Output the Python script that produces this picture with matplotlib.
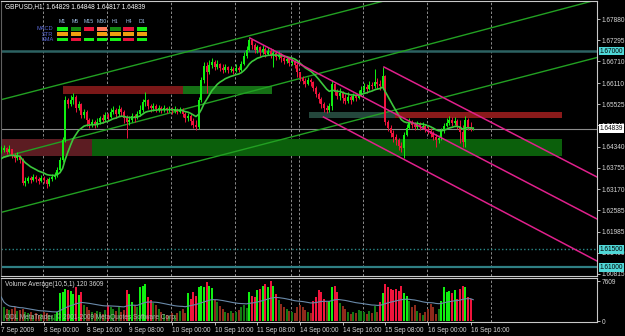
import numpy as np
import pandas as pd
import matplotlib
matplotlib.use('Agg')
import matplotlib.pyplot as plt
import matplotlib.transforms as mtransforms
from matplotlib.patches import Rectangle
from matplotlib import font_manager

installed = {f.name for f in font_manager.fontManager.ttflist}
if 'Liberation Sans Narrow' in installed:
    plt.rcParams['font.family'] = ['Liberation Sans Narrow', 'DejaVu Sans']
    FS = 5.4
else:
    plt.rcParams['font.family'] = ['Liberation Sans', 'DejaVu Sans']
    FS = 4.7

# ---- GBPUSD H1, 7 Sep 2009 08:00 .. 16 Sep 2009 17:00 (bar index = position) ----
first_open = 1.6422
ma_seed = 1.6398   # moving average value just before the first visible bar
closes = [
    1.6425, 1.6431, 1.6420, 1.6428, 1.6412, 1.6403, 1.6409, 1.6398, 1.6334, 1.6339,
    1.6348, 1.6342, 1.6350, 1.6345, 1.6339, 1.6348, 1.6342, 1.6331, 1.6345, 1.6350,
    1.6356, 1.6370, 1.6398, 1.6453, 1.6564, 1.6553, 1.6564, 1.6572, 1.6542, 1.6553,
    1.6523, 1.6531, 1.6509, 1.6498, 1.6503, 1.6495, 1.6503, 1.6514, 1.6509, 1.6523,
    1.6517, 1.6531, 1.6536, 1.6525, 1.6539, 1.6531, 1.6514, 1.6503, 1.6509, 1.6520,
    1.6514, 1.6525, 1.6536, 1.6559, 1.6564, 1.6548, 1.6542, 1.6548, 1.6539, 1.6542,
    1.6536, 1.6542, 1.6536, 1.6539, 1.6534, 1.6536, 1.6531, 1.6536, 1.6525, 1.6514,
    1.6520, 1.6506, 1.6495, 1.6489, 1.6564, 1.6620, 1.6659, 1.6642, 1.6661, 1.6670,
    1.6656, 1.6664, 1.6653, 1.6647, 1.6656, 1.6647, 1.6650, 1.6645, 1.6653, 1.6647,
    1.6664, 1.6686, 1.6703, 1.6731, 1.6717, 1.6703, 1.6711, 1.6697, 1.6706, 1.6692,
    1.6700, 1.6689, 1.6695, 1.6683, 1.6689, 1.6681, 1.6672, 1.6678, 1.6667, 1.6670,
    1.6661, 1.6642, 1.6625, 1.6617, 1.6609, 1.6620, 1.6614, 1.6597, 1.6581, 1.6567,
    1.6553, 1.6542, 1.6536, 1.6548, 1.6609, 1.6586, 1.6575, 1.6584, 1.6570, 1.6561,
    1.6572, 1.6564, 1.6575, 1.6570, 1.6581, 1.6592, 1.6600, 1.6595, 1.6606, 1.6603,
    1.6614, 1.6609, 1.6603, 1.6631, 1.6503, 1.6486, 1.6473, 1.6461, 1.6453, 1.6437,
    1.6431, 1.6467, 1.6486, 1.6503, 1.6495, 1.6489, 1.6498, 1.6489, 1.6492, 1.6484,
    1.6478, 1.6470, 1.6461, 1.6453, 1.6459, 1.6478, 1.6492, 1.6500, 1.6509, 1.6500,
    1.6506, 1.6492, 1.6475, 1.6448, 1.6509, 1.6489, 1.6483, 1.6484]
highs = [
    1.6437, 1.6439, 1.6434, 1.6439, 1.6428, 1.6417, 1.6420, 1.6412, 1.6403, 1.6350,
    1.6353, 1.6353, 1.6359, 1.6356, 1.6350, 1.6356, 1.6353, 1.6348, 1.6350, 1.6359,
    1.6364, 1.6378, 1.6406, 1.6461, 1.6575, 1.6570, 1.6578, 1.6584, 1.6578, 1.6561,
    1.6556, 1.6539, 1.6536, 1.6514, 1.6511, 1.6509, 1.6514, 1.6520, 1.6525, 1.6531,
    1.6528, 1.6542, 1.6548, 1.6542, 1.6550, 1.6545, 1.6536, 1.6523, 1.6520, 1.6528,
    1.6525, 1.6534, 1.6550, 1.6567, 1.6586, 1.6567, 1.6553, 1.6556, 1.6553, 1.6550,
    1.6548, 1.6550, 1.6545, 1.6548, 1.6545, 1.6548, 1.6542, 1.6545, 1.6542, 1.6531,
    1.6528, 1.6525, 1.6514, 1.6509, 1.6572, 1.6628, 1.6670, 1.6670, 1.6675, 1.6681,
    1.6675, 1.6675, 1.6667, 1.6664, 1.6664, 1.6659, 1.6659, 1.6656, 1.6664, 1.6659,
    1.6672, 1.6697, 1.6714, 1.6736, 1.6733, 1.6722, 1.6717, 1.6714, 1.6717, 1.6711,
    1.6711, 1.6708, 1.6706, 1.6700, 1.6700, 1.6695, 1.6689, 1.6686, 1.6683, 1.6681,
    1.6675, 1.6667, 1.6642, 1.6631, 1.6625, 1.6628, 1.6625, 1.6617, 1.6603, 1.6586,
    1.6572, 1.6559, 1.6550, 1.6556, 1.6620, 1.6611, 1.6595, 1.6597, 1.6589, 1.6581,
    1.6586, 1.6578, 1.6584, 1.6581, 1.6592, 1.6603, 1.6611, 1.6609, 1.6617, 1.6614,
    1.6650, 1.6625, 1.6620, 1.6656, 1.6634, 1.6509, 1.6495, 1.6481, 1.6470, 1.6459,
    1.6448, 1.6475, 1.6498, 1.6514, 1.6509, 1.6503, 1.6506, 1.6503, 1.6503, 1.6498,
    1.6492, 1.6486, 1.6478, 1.6470, 1.6467, 1.6486, 1.6500, 1.6514, 1.6520, 1.6517,
    1.6517, 1.6511, 1.6509, 1.6495, 1.6520, 1.6514, 1.6503, 1.6485]
lows = [
    1.6417, 1.6420, 1.6414, 1.6417, 1.6403, 1.6392, 1.6398, 1.6389, 1.6328, 1.6326,
    1.6334, 1.6334, 1.6339, 1.6337, 1.6331, 1.6337, 1.6334, 1.6320, 1.6326, 1.6339,
    1.6345, 1.6350, 1.6364, 1.6392, 1.6448, 1.6542, 1.6548, 1.6553, 1.6531, 1.6536,
    1.6514, 1.6514, 1.6492, 1.6486, 1.6489, 1.6486, 1.6489, 1.6498, 1.6500, 1.6506,
    1.6509, 1.6514, 1.6525, 1.6514, 1.6520, 1.6520, 1.6500, 1.6459, 1.6495, 1.6503,
    1.6503, 1.6511, 1.6520, 1.6531, 1.6548, 1.6539, 1.6531, 1.6534, 1.6531, 1.6531,
    1.6528, 1.6531, 1.6528, 1.6531, 1.6525, 1.6528, 1.6525, 1.6528, 1.6517, 1.6503,
    1.6506, 1.6495, 1.6486, 1.6481, 1.6484, 1.6559, 1.6611, 1.6584, 1.6636, 1.6653,
    1.6647, 1.6650, 1.6645, 1.6639, 1.6642, 1.6639, 1.6642, 1.6636, 1.6642, 1.6642,
    1.6645, 1.6661, 1.6681, 1.6700, 1.6706, 1.6695, 1.6695, 1.6686, 1.6692, 1.6683,
    1.6689, 1.6681, 1.6656, 1.6675, 1.6678, 1.6670, 1.6664, 1.6667, 1.6659, 1.6661,
    1.6653, 1.6628, 1.6617, 1.6609, 1.6600, 1.6606, 1.6603, 1.6589, 1.6572, 1.6556,
    1.6542, 1.6531, 1.6528, 1.6531, 1.6536, 1.6578, 1.6567, 1.6564, 1.6556, 1.6553,
    1.6556, 1.6553, 1.6561, 1.6561, 1.6567, 1.6575, 1.6586, 1.6584, 1.6592, 1.6595,
    1.6597, 1.6595, 1.6592, 1.6597, 1.6495, 1.6478, 1.6461, 1.6448, 1.6439, 1.6425,
    1.6420, 1.6403, 1.6464, 1.6484, 1.6486, 1.6481, 1.6484, 1.6481, 1.6484, 1.6475,
    1.6470, 1.6461, 1.6453, 1.6434, 1.6445, 1.6453, 1.6473, 1.6489, 1.6495, 1.6492,
    1.6495, 1.6484, 1.6445, 1.6434, 1.6434, 1.6481, 1.6478, 1.6482]
volumes = [
    4600, 2700, 2400, 2100, 2400, 2700, 2000, 2100, 2400, 1800,
    1500, 1700, 1200, 1500, 1100, 1400, 1800, 1500, 1200, 1000,
    1400, 1800, 5300, 5500, 6200, 6000, 5800, 5200, 6500, 5000,
    5600, 3000, 2600, 2200, 1800, 1500, 2000, 1700, 1400, 2100,
    3000, 2700, 2400, 2000, 2600, 1700, 2100, 5900, 5200, 3600,
    3000, 2600, 6500, 6800, 7100, 4600, 4000, 3400, 3000, 2400,
    1800, 1400, 1200, 900, 1500, 1100, 1600, 2000, 2400, 1500,
    5300, 4300, 5600, 4900, 6500, 6800, 6500, 7500, 6800, 6400,
    4000, 3600, 2800, 2400, 1800, 1600, 2000, 1600, 1800, 2100,
    2700, 3000, 2500, 5500, 4900, 4600, 5900, 6200, 6800, 7200,
    6500, 7600, 6800, 5200, 4000, 3200, 2700, 2400, 2000, 1800,
    1500, 2600, 3000, 2600, 2100, 1800, 1500, 3900, 4600, 6000,
    5600, 4300, 3700, 3900, 6600, 6800, 5500, 3400, 2800, 2400,
    1700, 1300, 1800, 1500, 2200, 2000, 1700, 1400, 2000, 1500,
    2800, 1800, 3700, 5300, 7200, 6500, 6200, 6000, 6200, 5800,
    6800, 5300, 4800, 3800, 2600, 3000, 2000, 1500, 1200, 1700,
    2400, 3300, 2600, 1400, 2400, 3900, 6500, 5600, 5700, 5300,
    5900, 4300, 6200, 6800, 6500, 4600, 4300, 120]

# time axis
day_starts = [16, 40, 64, 88, 109, 112, 136, 160, 184]
time_tick_idx = [0, 16, 32, 48, 64, 80, 96, 112, 128, 144, 160, 176]
time_labels = ['7 Sep 2009', '8 Sep 00:00', '8 Sep 16:00', '9 Sep 08:00', '10 Sep 00:00',
               '10 Sep 16:00', '11 Sep 08:00', '14 Sep 00:00', '14 Sep 16:00',
               '15 Sep 08:00', '16 Sep 00:00', '16 Sep 16:00']
price_ticks = [1.67880, 1.67295, 1.66710, 1.66110, 1.65525, 1.64940, 1.64340,
               1.63755, 1.63170, 1.62585, 1.61985, 1.61400, 1.60815]

# chart objects: (bar, price) anchors
green_channel = [((-0.5, 1.65641), (142.0, 1.68360)),
                 ((-0.5, 1.64032), (175.7, 1.67486)),
                 ((-0.5, 1.62514), (223.4, 1.66820))]
pink_channel = [((93.2, 1.67362), (223.4, 1.62339)),
                ((143.5, 1.66557), (223.4, 1.63504)),
                ((120.8, 1.65169), (223.4, 1.61173))]
# zones: start bar, end bar, low, high
zones = [(23.1, 68.1, 1.6580, 1.6603, '#7a1818'),
         (68.1, 101.5, 1.6580, 1.6603, '#157015'),
         (-0.5, 33.9, 1.6409, 1.6455, '#5c1c22'),
         (33.9, 210.1, 1.6409, 1.6455, '#0b5f0b'),
         (115.4, 147.6, 1.6515, 1.6532, '#24473c'),
         (147.6, 210.1, 1.6515, 1.6532, '#8a1a1a')]
levels = [(1.67000, '-', '#2c6262', 1.8), (1.61500, ':', '#2a8a8a', 1.0),
          (1.61000, '-', '#2f7f84', 1.6)]
bid = 1.64839

# signal panel
tf_names = ['M1', 'M5', 'M15', 'M30', 'H1', 'H4', 'D1']
sig_rows = ['MACD', 'STR', 'EMA']
sig_state = [['g', 'dg', 'r', 's', 'dg', 'r', 'g'],
             ['o', 'o', 'n', 'o', 'o', 'o', 'o'],
             ['g', 'r', 'g', 'g', 'g', 'r', 'g']]
sig_colors = {'g': '#18f018', 'dg': '#128a12', 'r': '#e8143c', 's': '#ff7a5a',
              'o': '#f0a010', 'n': 'black'}

W, H = 625, 336
BULL, BEAR = '#10f010', '#f0143c'
FG = '#d8d8d8'

closes = np.array(closes)
opens = np.r_[first_open, closes[:-1]]
highs = np.maximum(np.array(highs), np.maximum(opens, closes))
lows = np.minimum(np.array(lows), np.minimum(opens, closes))
volumes = np.array(volumes)
idx = np.arange(len(closes))
up = closes >= opens

fig = plt.figure(figsize=(W / 100, H / 100), dpi=100, facecolor='black')
ax = fig.add_axes([1 / W, 1 - 276 / H, 596 / W, 275 / H], facecolor='black')
axv = fig.add_axes([1 / W, 1 - 322 / H, 596 / W, 44.5 / H], facecolor='black')

x_left, x_right = -0.11, 223.4
ax.set_xlim(x_left, x_right)
ax.set_ylim(1.60757, 1.68388)
axv.set_xlim(x_left, x_right)
axv.set_ylim(-190, 8360)

for a in (ax, axv):
    for d in day_starts:
        a.axvline(d - 0.25, color='#8c8c8c', lw=0.7, ls=(0, (2.5, 2)), zorder=1)
    for s in a.spines.values():
        s.set_color('#c8c8c8')
        s.set_linewidth(0.8)
    a.spines['left'].set_color('#606060')

for x0, x1, lo, hi, c in zones:
    ax.add_patch(Rectangle((x0, lo), x1 - x0, hi - lo, facecolor=c, edgecolor='none', zorder=1))

for lvl, ls, c, lw in levels:
    ax.axhline(lvl, color=c, ls=ls, lw=lw, zorder=1.5)
ax.axhline(bid, color='#8c8c8c', lw=0.8, zorder=1.5)

for p1, p2 in green_channel:
    ax.axline(p1, p2, color='#22a022', lw=1.0, zorder=2)
for p1, p2 in pink_channel:
    ax.plot([p1[0], p2[0]], [p1[1], p2[1]], color='#e0208c', lw=1.1, zorder=4)

# candles
col = np.where(up, BULL, BEAR)
ax.vlines(idx, lows, highs, colors=col, lw=0.7, zorder=3)
body = np.maximum(np.abs(closes - opens), 0.00004)
ax.bar(idx, body, bottom=np.minimum(opens, closes), width=0.6, color=col, zorder=3)

ma = pd.Series(np.r_[ma_seed, closes]).ewm(span=14, adjust=False).mean().values[1:]
ax.plot(idx, ma, color='#3cc83c', lw=1.2, zorder=3.5)

# price axis
ax.yaxis.tick_right()
ax.set_yticks(price_ticks)
ax.set_yticklabels([f'{t:.5f}' for t in price_ticks])
ax.tick_params(axis='y', colors=FG, labelsize=FS, length=2.5, pad=1.0, width=0.6)
ax.set_xticks([])

tr = mtransforms.blended_transform_factory(ax.transAxes, ax.transData)
for lvl, ls, c, lw in levels:
    ax.text(1.0045, lvl, f'{lvl:.5f}', transform=tr, fontsize=FS, color='black', va='center',
            ha='left', bbox=dict(boxstyle='square,pad=0.15', fc='#50d8d8', ec='none'), zorder=6)
ax.text(1.0045, bid, f'{bid:.5f}', transform=tr, fontsize=FS, color='black', va='center',
        ha='left', bbox=dict(boxstyle='square,pad=0.15', fc='white', ec='none'), zorder=6)

# volume
vol_ma = pd.Series(volumes).ewm(span=40).mean()
above = volumes >= vol_ma.values
vcol = np.where(up, np.where(above, '#10f010', '#137a13'), np.where(above, '#f0143c', '#8e2a1c'))
axv.bar(idx, volumes, width=0.7, color=vcol, zorder=2)
axv.plot(idx, vol_ma, color='#6a8aaa', lw=0.8, zorder=3)
axv.yaxis.tick_right()
axv.set_yticks([0, 7609])
axv.set_yticklabels(['0', '7609'])
axv.tick_params(axis='y', colors=FG, labelsize=FS, length=2.5, pad=1.0, width=0.6)
axv.set_xticks(time_tick_idx)
axv.set_xticklabels(time_labels, ha='left')
axv.tick_params(axis='x', colors=FG, labelsize=FS, length=2.5, pad=1.2, width=0.6)
axv.text(0.006, 0.84, f'Volume Average(10,5,1) {volumes[-1]} 3609', transform=axv.transAxes,
         color=FG, fontsize=FS, va='center', zorder=5)
axv.text(0.006, 0.1, 'ODL MetaTrader, \u00a9 2001-2009 MetaQuotes Software Corp.',
         transform=axv.transAxes, color='#b0b0b0', fontsize=FS, va='center', zorder=5)

# overlay in pixels: title and signal panel
axo = fig.add_axes([0, 0, 1, 1])
axo.set_xlim(0, W)
axo.set_ylim(H, 0)
axo.axis('off')
axo.patch.set_alpha(0)
axo.text(5, 7, 'GBPUSD,H1  1.64829 1.64848 1.64817 1.64839', color='white', fontsize=FS,
         va='center')
for j, name in enumerate(tf_names):
    x0 = 57.3 + j * 13.2
    axo.text(x0 + 5.2, 21.7, name, color='#9ec1e6', fontsize=FS - 0.9, ha='center', va='center')
    for r in range(3):
        if sig_state[r][j] != 'n':
            axo.add_patch(Rectangle((x0, 27 + r * 5.3), 10.5, 3.6,
                                    fc=sig_colors[sig_state[r][j]], ec='none'))
for r, name in enumerate(sig_rows):
    axo.text(53.5, 28.8 + r * 5.3, name, color='#5a6ad8', fontsize=FS - 0.6, ha='right',
             va='center')

fig.savefig('out.png', dpi=100, facecolor='black')
